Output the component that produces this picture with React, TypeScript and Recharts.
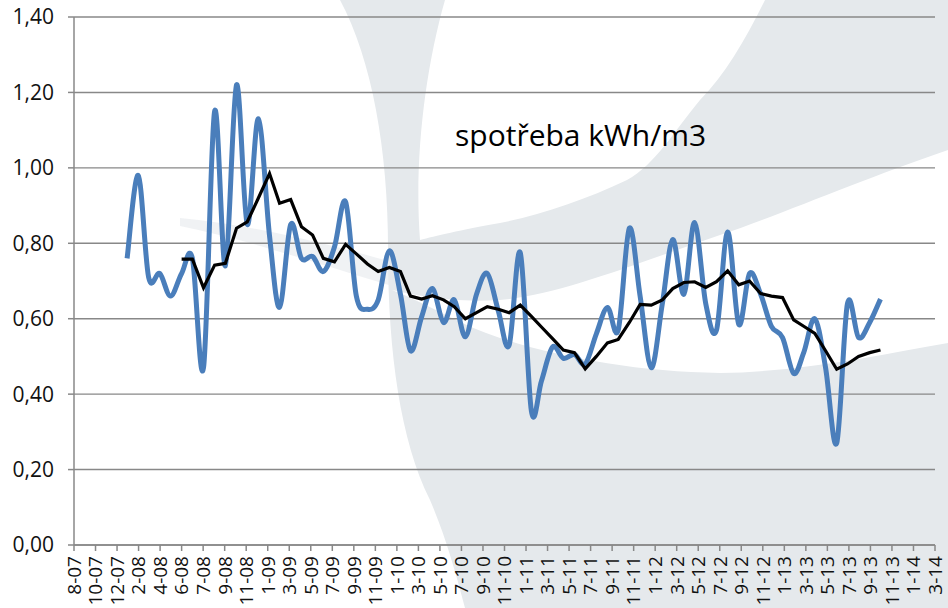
import React from 'react';
import { LineChart, Line, XAxis, YAxis, CartesianGrid } from 'recharts';

// monthly categories (first day of month)
const months: string[] = [
  '2008-01','2008-02','2008-03','2008-04','2008-05','2008-06','2008-07','2008-08','2008-09','2008-10','2008-11','2008-12',
  '2009-01','2009-02','2009-03','2009-04','2009-05','2009-06','2009-07','2009-08','2009-09','2009-10','2009-11','2009-12',
  '2010-01','2010-02','2010-03','2010-04','2010-05','2010-06','2010-07','2010-08','2010-09','2010-10','2010-11','2010-12',
  '2011-01','2011-02','2011-03','2011-04','2011-05','2011-06','2011-07','2011-08','2011-09','2011-10','2011-11','2011-12',
  '2012-01','2012-02','2012-03','2012-04','2012-05','2012-06','2012-07','2012-08','2012-09','2012-10','2012-11','2012-12',
  '2013-01','2013-02','2013-03','2013-04','2013-05','2013-06','2013-07','2013-08','2013-09','2013-10',
];

// spotřeba kWh/m3 (blue, smoothed)
const consumption: number[] = [
  0.76, 0.98, 0.71, 0.72, 0.66, 0.72, 0.76, 0.47, 1.15, 0.74, 1.22, 0.85,
  1.13, 0.82, 0.63, 0.85, 0.76, 0.765, 0.725, 0.79, 0.91, 0.66, 0.625, 0.65,
  0.78, 0.665, 0.515, 0.605, 0.68, 0.59, 0.65, 0.552, 0.665, 0.72, 0.62, 0.53,
  0.775, 0.355, 0.435, 0.525, 0.495, 0.505, 0.48, 0.56, 0.63, 0.57, 0.84, 0.66,
  0.47, 0.64, 0.81, 0.665, 0.855, 0.64, 0.57, 0.83, 0.585, 0.72, 0.665, 0.58,
  0.55, 0.455, 0.51, 0.6, 0.47, 0.27, 0.64, 0.55, 0.59, 0.652,
];

// moving average (black), starts at 2008-06
const avgStart = '2008-06';
const movingAvg: number[] = [
  0.758, 0.758, 0.682, 0.742, 0.747, 0.84, 0.857,
  0.92, 0.985, 0.906, 0.916, 0.844, 0.822, 0.76, 0.751, 0.797, 0.772, 0.745, 0.725,
  0.736, 0.725, 0.66, 0.652, 0.661, 0.65, 0.632, 0.6, 0.616, 0.632, 0.625, 0.616,
  0.636, 0.606, 0.578, 0.547, 0.517, 0.51, 0.467, 0.5, 0.536, 0.545, 0.59, 0.638,
  0.636, 0.65, 0.68, 0.696, 0.698, 0.683, 0.698, 0.727, 0.69, 0.7, 0.667, 0.66,
  0.656, 0.597, 0.58, 0.561, 0.515, 0.466, 0.48, 0.5, 0.51, 0.517,
];

const yTicks: number[] = [0, 0.2, 0.4, 0.6, 0.8, 1.0, 1.2, 1.4];

// x axis: Excel date serials, start 39300, one label every 60 days
const xAxisStart = 39300;
const xAxisStep = 60;
const xTickLabels: string[] = [
  '8-07','10-07','12-07','2-08','4-08','6-08','7-08','9-08','11-08','1-09','3-09','5-09','7-09','9-09',
  '11-09','1-10','3-10','5-10','7-10','9-10','11-10','1-11','3-11','5-11','7-11','9-11','11-11',
  '1-12','3-12','5-12','7-12','9-12','11-12','1-13','3-13','5-13','7-13','9-13','11-13','1-14','3-14',
];
const xTicks = xTickLabels.map((_, i) => xAxisStart + i * xAxisStep);
const xAxisEnd = xTicks[xTicks.length - 1];

const toSerial = (ym: string) => {
  const [y, m] = ym.split('-').map(Number);
  return Date.UTC(y, m - 1, 1) / 86400000 + 25569;
};

const avgOffset = months.indexOf(avgStart);
const data = months.map((m, i) => ({
  x: toSerial(m),
  blue: consumption[i],
  black: i >= avgOffset ? movingAvg[i - avgOffset] : null,
}));

// Excel-like smoothed line (Catmull-Rom through the points)
const smoothCurve = (context: any) => {
  let pts: number[][] = [];
  return {
    areaStart() {},
    areaEnd() {},
    lineStart() { pts = []; },
    lineEnd() {
      const n = pts.length;
      if (!n) return;
      context.moveTo(pts[0][0], pts[0][1]);
      for (let i = 0; i < n - 1; i++) {
        const p0 = pts[i - 1] || pts[i];
        const p1 = pts[i];
        const p2 = pts[i + 1];
        const p3 = pts[i + 2] || p2;
        context.bezierCurveTo(
          p1[0] + (p2[0] - p0[0]) / 6, p1[1] + (p2[1] - p0[1]) / 6,
          p2[0] - (p3[0] - p1[0]) / 6, p2[1] - (p3[1] - p1[1]) / 6,
          p2[0], p2[1],
        );
      }
    },
    point(x: number, y: number) { pts.push([+x, +y]); },
  };
};

const FONT = "'Open Sans', 'Noto Sans', sans-serif";

const XTick = (props: any) => {
  const { x, y, index } = props;
  const label = xTickLabels[index] ?? '';
  const ty = y + 3;
  return (
    <text
      x={x}
      y={ty}
      dy="0.36em"
      transform={`rotate(-90, ${x}, ${ty})`}
      textAnchor="end"
      fontFamily={FONT}
      fontSize={19}
      fill="#111"
    >
      {label}
    </text>
  );
};

const fmtY = (v: number) => v.toFixed(2).replace('.', ',');

export default function App() {
  return (
    <div style={{ position: 'absolute', left: 0, top: 0, width: 948, height: 608, background: '#fff', overflow: 'hidden' }}>
      <svg width={948} height={608} style={{ position: 'absolute', left: 0, top: 0 }}>
        <path d="M 340,0 C 372,60 388,150 388,250 C 388,350 400,440 430,500 C 445,535 455,570 465,608 L 948,608 L 948,0 Z" fill="#e5e9ec" />
        <path d="M 445,0 L 765,0 C 745,40 725,75 700,100 C 675,130 655,165 627,180 C 585,200 540,215 500,223 C 460,230 435,236 420,240 C 414,160 425,70 445,0 Z" fill="#ffffff" />
        <path d="M 948,150 C 860,180 780,215 720,235 C 640,262 560,295 500,300 C 450,303 415,295 392,290 C 430,305 460,325 500,338 C 560,358 640,372 720,373 C 800,372 880,355 948,343 Z" fill="#ffffff" />
        <path d="M 180,218 C 240,224 300,236 392,262 L 392,286 C 300,258 240,238 180,226 Z" fill="#e6eaec" opacity={0.6} />
      </svg>
      <div style={{ position: 'absolute', left: 0, top: 0 }}>
        <LineChart width={948} height={608} data={data} margin={{ top: 17, right: 13, bottom: 0, left: 0 }}>
          <CartesianGrid vertical={false} stroke="#888888" strokeWidth={1.4} />
          <XAxis
            dataKey="x"
            type="number"
            domain={[xAxisStart, xAxisEnd]}
            ticks={xTicks}
            interval={0}
            allowDataOverflow
            height={63}
            tickSize={6}
            tick={<XTick />}
            axisLine={{ stroke: '#888888', strokeWidth: 1.5 }}
            tickLine={{ stroke: '#888888', strokeWidth: 1.5 }}
          />
          <YAxis
            type="number"
            domain={[0, 1.4]}
            ticks={yTicks}
            interval={0}
            width={74}
            tickSize={6}
            tickMargin={14}
            tickFormatter={fmtY}
            tick={{ fontFamily: FONT, fontSize: 21, fill: '#111' }}
            axisLine={{ stroke: '#888888', strokeWidth: 1.5 }}
            tickLine={{ stroke: '#888888', strokeWidth: 1.5 }}
          />
          <Line
            dataKey="blue"
            type={smoothCurve as any}
            stroke="#4a7ebb"
            strokeWidth={5}
            dot={false}
            activeDot={false}
            isAnimationActive={false}
          />
          <Line
            dataKey="black"
            type="linear"
            stroke="#000000"
            strokeWidth={3.2}
            dot={false}
            activeDot={false}
            isAnimationActive={false}
          />
        </LineChart>
      </div>
      <svg width={948} height={608} style={{ position: 'absolute', left: 0, top: 0, pointerEvents: 'none' }}>
        <text x={455} y={146} fontFamily={FONT} fontSize={30} fill="#000">spotřeba kWh/m3</text>
      </svg>
    </div>
  );
}
